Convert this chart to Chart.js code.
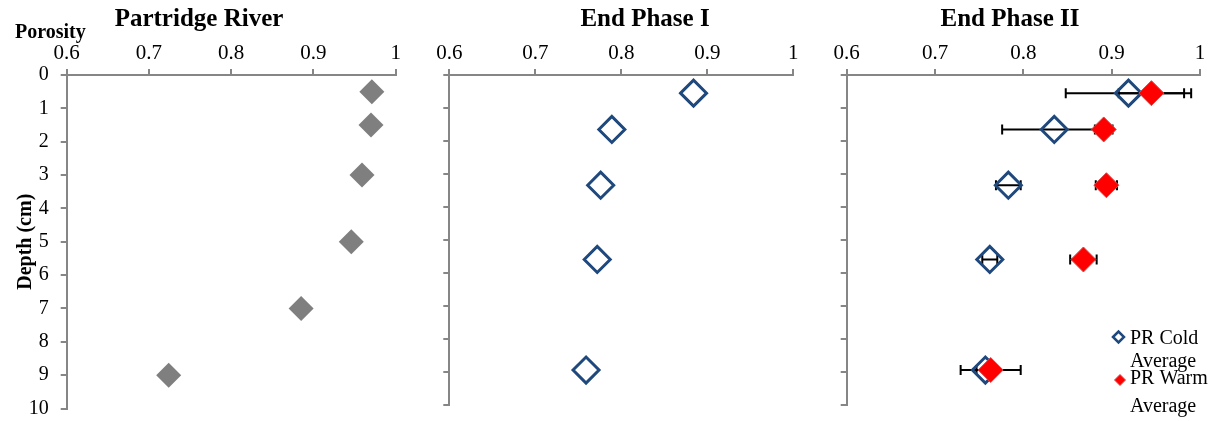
<!DOCTYPE html>
<html>
<head>
<meta charset="utf-8">
<script src="https://cdn.jsdelivr.net/npm/chart.js@4.4.1/dist/chart.umd.min.js"></script>
<style>
  html, body { margin: 0; padding: 0; background: #fff; }
  #wrap { position: relative; width: 1217px; height: 421px; overflow: hidden; }
  .panel { position: absolute; top: 0; height: 421px; }
</style>
</head>
<body>
<div id="wrap">
  <div class="panel" style="left:0;width:420px"><canvas id="pr"></canvas></div>
  <div class="panel" style="left:420px;width:400px"><canvas id="ph1"></canvas></div>
  <div class="panel" style="left:820px;width:397px"><canvas id="ph2"></canvas></div>
</div>
<script>
// Tick values shared by all three panels
const porosityTicks = [0.6, 0.7, 0.8, 0.9, 1];
const depthTicks = [0, 1, 2, 3, 4, 5, 6, 7, 8, 9, 10];

// Partridge River (field cores)
const prDepth = [0.5, 1.5, 3, 5, 7, 9];
const prPorosity = [0.971, 0.970, 0.959, 0.946, 0.885, 0.724];

// End of Phase I
const phaseIDepth = [0.55, 1.65, 3.34, 5.59, 8.94];
const phaseIPorosity = [0.884, 0.789, 0.776, 0.772, 0.759];

// End of Phase II, cold and warm treatments (mean ± error)
const phaseIIDepth = [0.55, 1.65, 3.34, 5.59, 8.94];
const coldPorosity = [0.919, 0.835, 0.783, 0.762, 0.757];
const coldError = [0.071, 0.059, 0.014, 0.0085, 0.010];
const warmPorosity = [0.945, 0.891, 0.894, 0.868, 0.763];
const warmError = [0.037, 0.010, 0.012, 0.015, 0.034];

const legendLines = {
  'PR Cold Average': ['PR Cold', 'Average'],
  'PR Warm Average': ['PR Warm', 'Average']
};

const SERIF = "'Liberation Serif', 'Times New Roman', serif";
const AXIS_GREY = '#868686';
Chart.defaults.font.family = SERIF;
Chart.defaults.color = '#000';

const points = (xs, ys) => xs.map((v, i) => ({ x: v, y: ys[i] }));

// Horizontal error bars drawn beneath the markers
const errorBars = {
  id: 'errorBars',
  beforeDatasetsDraw(chart) {
    const { ctx, scales: { x, y } } = chart;
    chart.data.datasets.forEach(ds => {
      if (!ds.xError) return;
      ctx.save();
      ctx.strokeStyle = '#000';
      ctx.lineWidth = 2;
      ds.data.forEach((p, j) => {
        const e = ds.xError[j];
        const x0 = x.getPixelForValue(p.x - e);
        const x1 = x.getPixelForValue(p.x + e);
        const py = y.getPixelForValue(p.y);
        ctx.beginPath();
        ctx.moveTo(x0, py); ctx.lineTo(x1, py);
        ctx.moveTo(x0, py - 5); ctx.lineTo(x0, py + 5);
        ctx.moveTo(x1, py - 5); ctx.lineTo(x1, py + 5);
        ctx.stroke();
      });
      ctx.restore();
    });
  }
};

// Panel headings and the axis caption
const panelText = {
  id: 'panelText',
  afterDraw(chart, args, opts) {
    const ctx = chart.ctx;
    (opts.items || []).forEach(t => {
      ctx.save();
      ctx.font = t.font;
      ctx.fillStyle = '#000';
      ctx.textAlign = t.align || 'center';
      ctx.textBaseline = 'alphabetic';
      ctx.fillText(t.text, t.x, t.y);
      ctx.restore();
    });
  }
};

// Wrapped legend placed inside the plot area
const insideLegend = {
  id: 'insideLegend',
  afterDraw(chart, args, opts) {
    if (!opts.entries) return;
    const ctx = chart.ctx;
    chart.data.datasets.forEach((ds, i) => {
      const e = opts.entries[i];
      if (!e) return;
      ctx.save();
      ctx.fillStyle = ds.backgroundColor;
      ctx.strokeStyle = ds.borderColor;
      ctx.lineWidth = e.markerBorder;
      Chart.helpers.drawPoint(ctx, {
        pointStyle: ds.pointStyle, radius: e.markerRadius, rotation: 0,
        borderWidth: e.markerBorder
      }, e.mx, e.my);
      ctx.font = opts.font;
      ctx.fillStyle = '#000';
      ctx.textAlign = 'left';
      ctx.textBaseline = 'alphabetic';
      legendLines[ds.label].forEach((line, k) => {
        ctx.fillText(line, e.tx, e.ty + k * e.gap);
      });
      ctx.restore();
    });
  }
};

// Fixed axis bands so every panel keeps the same plot frame
const fixBand = size => s => {
  if (s.isHorizontal()) s.height = size; else s.width = size;
  s.paddingTop = 0; s.paddingBottom = 0; s.paddingLeft = 0; s.paddingRight = 0;
};

function makePanel(id, datasets, cfg) {
  return new Chart(document.getElementById(id), {
    type: 'scatter',
    data: { datasets },
    plugins: [errorBars, panelText, insideLegend],
    options: {
      responsive: true,
      maintainAspectRatio: false,
      animation: false,
      events: [],
      layout: { padding: { left: 0, right: cfg.padRight, top: 0, bottom: 12 } },
      plugins: {
        legend: { display: false },
        tooltip: { enabled: false },
        panelText: { items: cfg.texts },
        insideLegend: cfg.legend || {}
      },
      scales: {
        x: {
          type: 'linear',
          position: 'top',
          min: 0.6,
          max: 1,
          afterBuildTicks: s => { s.ticks = porosityTicks.map(v => ({ value: v })); },
          afterFit: fixBand(75),
          grid: { drawOnChartArea: false, drawTicks: true, tickLength: 6, color: AXIS_GREY, lineWidth: 2 },
          border: { display: true, color: AXIS_GREY, width: 2 },
          ticks: { font: { size: 21 }, color: '#000', padding: 3, maxRotation: 0, callback: v => String(v) }
        },
        y: {
          type: 'linear',
          reverse: true,
          min: 0,
          max: 10,
          afterBuildTicks: s => { s.ticks = depthTicks.map(v => ({ value: v })); },
          afterFit: fixBand(cfg.yWidth),
          grid: { drawOnChartArea: false, drawTicks: true, tickLength: 6, color: AXIS_GREY, lineWidth: 2 },
          border: { display: true, color: AXIS_GREY, width: 2 },
          ticks: { display: cfg.showDepthLabels, font: { size: 20 }, color: '#000', padding: 12, callback: v => String(v) },
          title: {
            display: cfg.showDepthLabels,
            text: 'Depth (cm)',
            font: { size: 20, weight: 'bold' },
            color: '#000',
            padding: { top: 14, bottom: 0 }
          }
        }
      }
    }
  });
}

const titleFont = "bold 25px " + SERIF;

makePanel('pr', [{
  label: 'Partridge River',
  data: points(prPorosity, prDepth),
  pointStyle: 'rectRot',
  pointRadius: 12.5,
  backgroundColor: '#7f7f7f',
  borderColor: '#7f7f7f',
  borderWidth: 0
}], {
  padRight: 24.3, yWidth: 66.7, showDepthLabels: true,
  texts: [
    { text: 'Partridge River', x: 199, y: 26, font: titleFont },
    { text: 'Porosity', x: 15, y: 38, font: "bold 20px " + SERIF, align: 'left' }
  ]
});

makePanel('ph1', [{
  label: 'End Phase I',
  data: points(phaseIPorosity, phaseIDepth),
  pointStyle: 'rectRot',
  pointRadius: 13,
  backgroundColor: 'rgba(0,0,0,0)',
  borderColor: '#1f497d',
  borderWidth: 3
}], {
  padRight: 26.7, yWidth: 29.3, showDepthLabels: false,
  texts: [{ text: 'End Phase I', x: 225, y: 26, font: titleFont }]
});

makePanel('ph2', [{
  label: 'PR Cold Average',
  data: points(coldPorosity, phaseIIDepth),
  xError: coldError,
  order: 2,
  pointStyle: 'rectRot',
  pointRadius: 13,
  backgroundColor: 'rgba(0,0,0,0)',
  borderColor: '#1f497d',
  borderWidth: 3
}, {
  label: 'PR Warm Average',
  data: points(warmPorosity, phaseIIDepth),
  xError: warmError,
  order: 1,
  pointStyle: 'rectRot',
  pointRadius: 12.5,
  backgroundColor: '#ff0000',
  borderColor: '#d94a4a',
  borderWidth: 1
}], {
  padRight: 17, yWidth: 26.7, showDepthLabels: false,
  texts: [{ text: 'End Phase II', x: 190, y: 26, font: titleFont }],
  legend: {
    font: "20px " + SERIF,
    entries: [
      { mx: 298.5, my: 337, markerRadius: 5.5, markerBorder: 2.5, tx: 310, ty: 344, gap: 23 },
      { mx: 300, my: 380, markerRadius: 5.5, markerBorder: 1, tx: 310, ty: 383.5, gap: 28 }
    ]
  }
});
</script>
</body>
</html>
